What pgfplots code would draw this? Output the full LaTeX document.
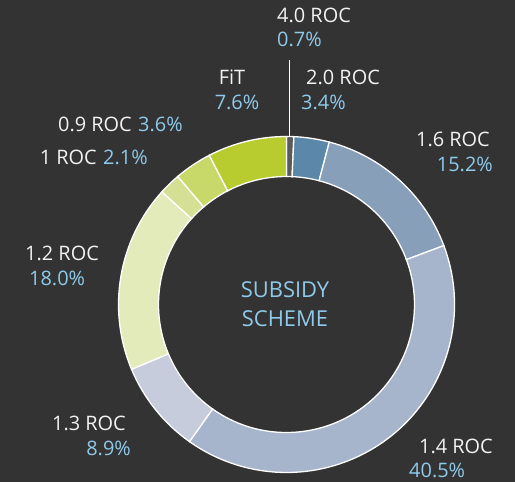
\documentclass[border=0pt]{standalone}
\usepackage{pgfplots}
\usepackage{pgfplotstable}
\pgfplotsset{compat=1.18}
\usepackage{fontspec}
\setmainfont{Open Sans}
\definecolor{bg}{HTML}{333333}
\definecolor{lab}{HTML}{F2F2F2}
\definecolor{pct}{HTML}{8FCAEA}
\definecolor{c0}{HTML}{5A5A5A}
\definecolor{c1}{HTML}{5B87A8}
\definecolor{c2}{HTML}{889FBA}
\definecolor{c3}{HTML}{A6B5CB}
\definecolor{c4}{HTML}{C6CCDB}
\definecolor{c5}{HTML}{E4EBBB}
\definecolor{c6}{HTML}{D5E095}
\definecolor{c7}{HTML}{C8D96A}
\definecolor{c8}{HTML}{B8CC30}
% share of each subsidy scheme (percent), clockwise from 12 o'clock
\pgfplotstableread{
scheme value
4.0ROC 0.7
2.0ROC 3.4
1.6ROC 15.2
1.4ROC 40.5
1.3ROC 8.9
1.2ROC 18.0
1ROC 2.1
0.9ROC 3.6
FiT 7.6
}\donut
\def\cum{0}
\pgfplotsforeachungrouped \i in {0,...,8}{%
  \pgfplotstablegetelem{\i}{value}\of\donut
  \let\v\pgfplotsretval
  \pgfmathsetmacro\s{90-3.6*\cum}%
  \pgfmathsetmacro\cum{\cum+\v}%
  \pgfmathsetmacro\e{90-3.6*\cum}%
  \expandafter\xdef\csname aS\i\endcsname{\s}%
  \expandafter\xdef\csname aE\i\endcsname{\e}%
}
\newcommand\fs{\fontsize{20}{22}\selectfont}
\newcommand\fc{\fontsize{22}{24}\selectfont}
\begin{document}
\begin{tikzpicture}
\begin{axis}[
  x=1bp, y=1bp, scale only axis,
  xmin=0, xmax=515, ymin=0, ymax=482,
  hide axis, clip=false,
]
\fill[bg] (axis cs:0,0) rectangle (axis cs:515,482);
\pgfplotsinvokeforeach{0,...,8}{
  \filldraw[fill=c#1, draw=white, line width=1.3bp, line join=miter]
    ([shift={(\csname aS#1\endcsname:168bp)}]axis cs:286.5,177.5)
    arc[start angle=\csname aS#1\endcsname, end angle=\csname aE#1\endcsname, radius=168bp]
    -- ([shift={(\csname aE#1\endcsname:128bp)}]axis cs:286.5,177.5)
    arc[start angle=\csname aE#1\endcsname, end angle=\csname aS#1\endcsname, radius=128bp]
    -- cycle;
}
\draw[white, line width=1bp] (axis cs:289,422) -- (axis cs:289,345);
\begin{scope}[every node/.style={inner sep=0pt, font=\fs}]
\node[anchor=base west, text=lab] at (axis cs:277,459) {4.0 ROC};
\node[anchor=base west, text=pct] at (axis cs:277,435) {0.7\%};
\node[anchor=base, text=lab] at (axis cs:232,397) {FiT};
\node[anchor=base, text=pct] at (axis cs:237,372) {7.6\%};
\node[anchor=base west, text=lab] at (axis cs:306,397) {2.0 ROC};
\node[anchor=base west, text=pct] at (axis cs:301,372) {3.4\%};
\node[anchor=base east, text=lab] at (axis cs:490,335) {1.6 ROC};
\node[anchor=base east, text=pct] at (axis cs:493,310) {15.2\%};
\node[anchor=base east, text=lab] at (axis cs:132,350) {0.9 ROC};
\node[anchor=base west, text=pct] at (axis cs:138,350) {3.6\%};
\node[anchor=base east, text=lab] at (axis cs:97,317) {1 ROC};
\node[anchor=base west, text=pct] at (axis cs:103,317) {2.1\%};
\node[anchor=base west, text=lab] at (axis cs:25,221) {1.2 ROC};
\node[anchor=base west, text=pct] at (axis cs:29,196) {18.0\%};
\node[anchor=base east, text=lab] at (axis cs:126,51) {1.3 ROC};
\node[anchor=base east, text=pct] at (axis cs:131,26) {8.9\%};
\node[anchor=base east, text=lab] at (axis cs:493,28) {1.4 ROC};
\node[anchor=base west, text=pct] at (axis cs:409,4) {40.5\%};
\node[anchor=base, text=pct, font=\fc] at (axis cs:285,184) {SUBSIDY};
\node[anchor=base, text=pct, font=\fc] at (axis cs:285,155) {SCHEME};
\end{scope}
\end{axis}
\end{tikzpicture}
\end{document}
